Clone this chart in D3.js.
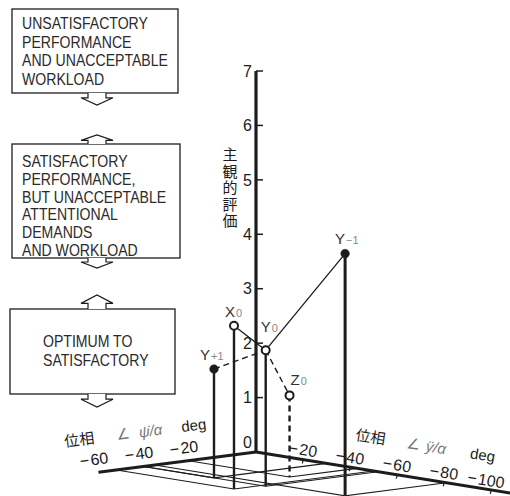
<!DOCTYPE html>
<html><head><meta charset="utf-8">
<script src="https://cdn.jsdelivr.net/npm/d3@7"></script>
<style>body{margin:0;background:#fff} svg{display:block}</style>
</head><body><svg id="c" width="510" height="496"></svg>
<script>
// ---------- data ----------
const pointNames = ["Y", "X", "Y", "Z", "Y"];
const pointSubs  = ["+1", "0", "0", "0", "−1"];
const psiPhase   = [-50, -62, -50, -30, -45];   // ∠ψ̇/α (deg)
const yddPhase   = [-30, -50, -52, -43, -81];   // ∠ÿ/α (deg)
const ratings    = [2.0, 3.0, 2.5, 1.5, 4.45];  // 主観的評価
const filledPts  = [true, false, false, false, true];
const solidLinks  = [[1, 2], [2, 4]];
const dashedLinks = [[0, 2], [2, 3]];
const ratingTicks = [0, 1, 2, 3, 4, 5, 6, 7];
const psiTicks = [-20, -40, -60];
const yddTicks = [-20, -40, -60, -80, -100];
const box1Lines = ["UNSATISFACTORY", "PERFORMANCE", "AND UNACCEPTABLE", "WORKLOAD"];
const box2Lines = ["SATISFACTORY", "PERFORMANCE,", "BUT UNACCEPTABLE", "ATTENTIONAL", "DEMANDS", "AND WORKLOAD"];
const box3Lines = ["OPTIMUM TO", "SATISFACTORY"];
const yTitle = "主観的評価";

// ---------- layout ----------
const INK = "#1c1c1c";
const svg = d3.select("#c");
const O = {x: 256, y: 452};
const rY   = d3.scaleLinear().domain([0, 7]).range([0, -381]);
const psiX = d3.scaleLinear().domain([0, -70]).range([0, -157.5]);
const psiY = d3.scaleLinear().domain([0, -70]).range([0, 20.3]);
const yddX = d3.scaleLinear().domain([0, -110]).range([0, 258.5]);
const yddY = d3.scaleLinear().domain([0, -110]).range([0, 41.8]);
const proj = (p, q, r) => [O.x + psiX(p) + yddX(q), O.y + psiY(p) + yddY(q) + rY(r)];
const line = d3.line();
const labelOff = [[-14, -9], [-9, -9], [-5, -18], [1, -10], [-10, -10]];
const fmtNeg = t => "\u2212\u200A" + Math.abs(t);

const g = svg.append("g");

// floor projection lines
psiPhase.forEach((p, i) => {
  const q = yddPhase[i];
  const foot = proj(p, q, 0);
  g.append("path").attr("d", line([foot, proj(p, 0, 0)])).attr("stroke", INK).attr("stroke-width", 1.1).attr("fill", "none");
  g.append("path").attr("d", line([foot, proj(0, q, 0)])).attr("stroke", INK).attr("stroke-width", 1.1).attr("fill", "none");
});

// floor axes
g.append("path").attr("d", line([proj(0, 0, 0), proj(-70, 0, 0)])).attr("stroke", INK).attr("stroke-width", 3).attr("fill", "none");
g.append("path").attr("d", line([proj(0, 0, 0), proj(0, -110, 0)])).attr("stroke", INK).attr("stroke-width", 3).attr("fill", "none");
yddTicks.forEach(t => {
  const a = proj(0, t, 0), b = proj(-3, t, 0);
  g.append("path").attr("d", line([[a[0], a[1] + 1], [b[0] + 6, b[1] + 3]])).attr("stroke", INK).attr("stroke-width", 1.2);
  const lx = Math.min(a[0], 486);
  g.append("text").attr("x", lx).attr("y", a[1] - 10).attr("dy", "0.35em")
    .attr("text-anchor", "middle").attr("font-family", "Liberation Sans, Arial, sans-serif")
    .attr("font-size", 16).attr("fill", INK)
    .attr("transform", `rotate(9 ${lx} ${a[1] - 10})`).text(fmtNeg(t));
});
psiTicks.forEach(t => {
  const a = proj(t, 0, 0);
  g.append("text").attr("x", a[0] - 27).attr("y", a[1] - 10).attr("dy", "0.35em")
    .attr("text-anchor", "middle").attr("font-family", "Liberation Sans, Arial, sans-serif")
    .attr("font-size", 16).attr("fill", INK)
    .attr("transform", `rotate(-7.3 ${a[0] - 27} ${a[1] - 10})`).text(fmtNeg(t));
});

// vertical axis
g.append("path").attr("d", line([proj(0, 0, 0), proj(0, 0, 7)])).attr("stroke", INK).attr("stroke-width", 3.2).attr("fill", "none");
ratingTicks.forEach(t => {
  const a = proj(0, 0, t);
  if (t > 0) g.append("path").attr("d", line([[a[0], a[1]], [a[0] + 7, a[1]]])).attr("stroke", INK).attr("stroke-width", 1.5);
  g.append("text").attr("x", a[0] - 4).attr("y", a[1] + (t === 0 ? -10 : 0)).attr("dy", "0.36em")
    .attr("text-anchor", "end").attr("font-family", "Liberation Sans, Arial, sans-serif")
    .attr("font-size", 16).attr("fill", INK).text(t);
});
g.append("text").attr("x", 230).attr("y", 147)
  .attr("writing-mode", "vertical-rl").style("writing-mode", "vertical-rl")
  .attr("letter-spacing", 1.5)
  .attr("font-family", "Noto Sans CJK JP, sans-serif").attr("font-size", 15).attr("fill", INK).text(yTitle);

// stems
psiPhase.forEach((p, i) => {
  const top = proj(p, yddPhase[i], ratings[i]), foot = proj(p, yddPhase[i], 0);
  g.append("path").attr("d", line([top, foot])).attr("stroke", INK)
    .attr("stroke-width", i === 4 ? 3 : 2.4)
    .attr("stroke-dasharray", i === 3 ? "6,4" : null).attr("fill", "none");
});

// links
const pt = i => proj(psiPhase[i], yddPhase[i], ratings[i]);
solidLinks.forEach(([a, b]) => g.append("path").attr("d", line([pt(a), pt(b)])).attr("stroke", INK).attr("stroke-width", 1.3).attr("fill", "none"));
dashedLinks.forEach(([a, b]) => g.append("path").attr("d", line([pt(a), pt(b)])).attr("stroke", INK).attr("stroke-width", 1.4).attr("stroke-dasharray", "6,4").attr("fill", "none"));

// points + labels
psiPhase.forEach((p, i) => {
  const c = pt(i);
  g.append("circle").attr("cx", c[0]).attr("cy", c[1]).attr("r", filledPts[i] ? 4.3 : 4)
    .attr("fill", filledPts[i] ? INK : "#fff").attr("stroke", INK).attr("stroke-width", filledPts[i] ? 0.5 : 2);
  const t = g.append("text").attr("x", c[0] + labelOff[i][0]).attr("y", c[1] + labelOff[i][1])
    .attr("font-family", "Liberation Sans, Arial, sans-serif").attr("font-size", 15).attr("fill", "#333");
  t.append("tspan").text(pointNames[i]);
  t.append("tspan").attr("font-size", 11).attr("fill", "#888").attr("dx", 1).text(pointSubs[i]);
});

// axis titles on floor
function floorTitle(x, y, ang, parts) {
  const tg = g.append("g").attr("transform", `translate(${x},${y}) rotate(${ang})`);
  parts.forEach(pp => tg.append("text").attr("x", pp.dx).attr("y", pp.dy || 0)
    .attr("font-family", pp.cjk ? "Noto Sans CJK JP, sans-serif" : "Liberation Sans, Arial, sans-serif")
    .attr("font-size", pp.size || 15).attr("fill", pp.col || INK).attr("font-style", pp.it ? "italic" : null).text(pp.t));
}
floorTitle(65, 447, -7.3, [
  {t: "位相", dx: 0, cjk: true},
  {t: "∠", dx: 52, col: "#777"},
  {t: "ψ̇/α", dx: 75, col: "#777", it: true},
  {t: "deg", dx: 118}
]);
floorTitle(355, 440, 9, [
  {t: "位相", dx: 0, cjk: true},
  {t: "∠", dx: 52, col: "#777"},
  {t: "ÿ/α", dx: 71, col: "#777", it: true},
  {t: "deg", dx: 116}
]);

// ---------- boxes ----------
const boxes = [
  {x: 12, y: 9, w: 166, h: 84, tx: 22, ty: 29, lh: 18.7, lines: box1Lines},
  {x: 12, y: 144, w: 168, h: 114, tx: 22, ty: 167, lh: 17.8, lines: box2Lines},
  {x: 10, y: 309, w: 165, h: 85, tx: 43, ty: 347, lh: 18.5, lines: box3Lines}
];
boxes.forEach(b => {
  g.append("rect").attr("x", b.x).attr("y", b.y).attr("width", b.w).attr("height", b.h)
    .attr("fill", "#fff").attr("stroke", INK).attr("stroke-width", 1.3);
  b.lines.forEach((s, k) => {
    g.append("text").attr("transform", `translate(${b.tx},${b.ty + k * b.lh}) scale(0.88,1)`)
      .attr("font-family", "Liberation Sans, Arial, sans-serif").attr("font-size", 16).attr("fill", "#2a2a2a").text(s);
  });
});
function arrow(cx, y0, y1) {
  const ym = y0 + (y1 - y0) * 0.4;
  const pts = [[cx - 9, y0], [cx - 9, ym], [cx - 16, ym], [cx, y1], [cx + 16, ym], [cx + 9, ym], [cx + 9, y0]];
  g.append("path").attr("d", line(pts)).attr("fill", "#fff").attr("stroke", INK).attr("stroke-width", 1.2);
}
arrow(97, 93, 105);
arrow(97, 144, 135);
arrow(97, 258, 268);
arrow(97, 309, 295);
arrow(97, 394, 407);
</script></body></html>
